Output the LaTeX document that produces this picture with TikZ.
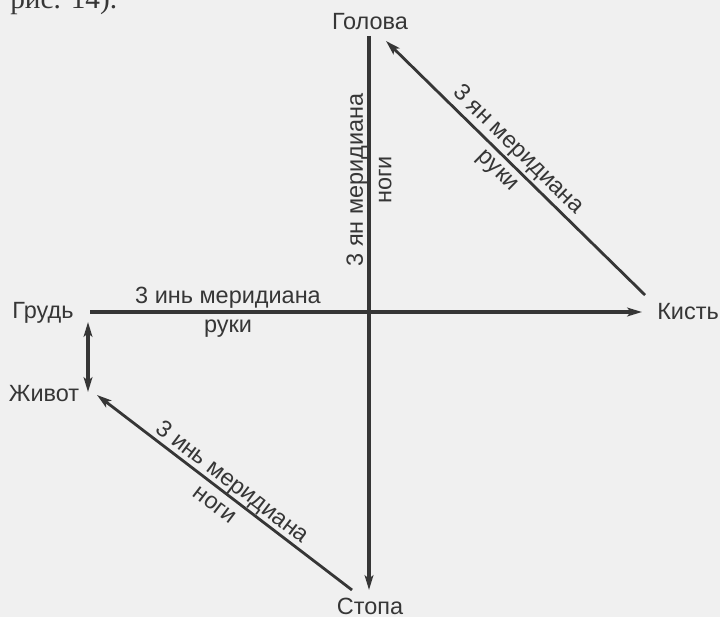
\documentclass[tikz,border=0pt]{standalone}
\usepackage{fontspec}
\setmainfont{Liberation Sans}
\newfontfamily\serifru{Liberation Serif}
\usetikzlibrary{arrows.meta,calc}
\definecolor{ink}{HTML}{363636}
\definecolor{paper}{HTML}{F0F0F0}
\begin{document}
\begin{tikzpicture}[x=0.75pt,y=-0.75pt,
  lbl/.style={text=ink,font=\fontsize{17.6}{21.5}\selectfont,inner sep=0pt},
  mer/.style={lbl,align=center},
  axisline/.style={draw=ink,line width=2.6pt},
  diag/.style={draw=ink,line width=2.1pt},
  tip/.style={-{Stealth[length=11pt,width=6.5pt,inset=2.5pt]}},
  twotip/.style={{Stealth[length=11pt,width=6.5pt,inset=2.5pt]}-{Stealth[length=11pt,width=6.5pt,inset=2.5pt]}}]
\fill[paper] (0,0) rectangle (720,617);
\useasboundingbox (0,0) rectangle (720,617);
\begin{scope}
\clip (0,0) rectangle (720,617);
\node[text=ink, font=\serifru\fontsize{22}{26}\selectfont, anchor=base west, inner sep=0pt] (ris) at (10,9) {рис. 14).};
\end{scope}
% body parts
\node[lbl] (gol) at (370,22) {Голова};
\node[lbl] (grud) at (43,312.5) {Грудь};
\node[lbl] (zhiv) at (44,394) {Живот};
\node[lbl] (kist) at (688,312) {Кисть};
\node[lbl] (stopa) at (370,606) {Стопа};
% axes
\draw[axisline,tip] ([shift={(-1,14)}]gol.center) -- node[mer,rotate=90,pos=0.26] (lv) {3 ян меридиана\\ноги} ([shift={(-1,-16)}]stopa.center);
\draw[axisline,tip] ([shift={(47,-0.5)}]grud.center) -- node[mer,pos=0.25] (lh) {3 инь меридиана\\руки} ([shift={(-46,0)}]kist.center);
% diagonals
\draw[diag,tip] ([shift={(-43,-17)}]kist.center) -- node[mer,sloped,pos=0.53] (ld1) {3 ян меридиана\\руки} ([shift={(16,19)}]gol.center);
\draw[diag,tip] ([shift={(-18,-16)}]stopa.center) -- node[mer,sloped,pos=0.5] (ld2) {3 инь меридиана\\ноги} ([shift={(53,1)}]zhiv.center);
% chest - belly
\draw[axisline,twotip] ([shift={(45,9.5)}]grud.center) -- ([shift={(44,-2)}]zhiv.center);
\end{tikzpicture}
\end{document}
